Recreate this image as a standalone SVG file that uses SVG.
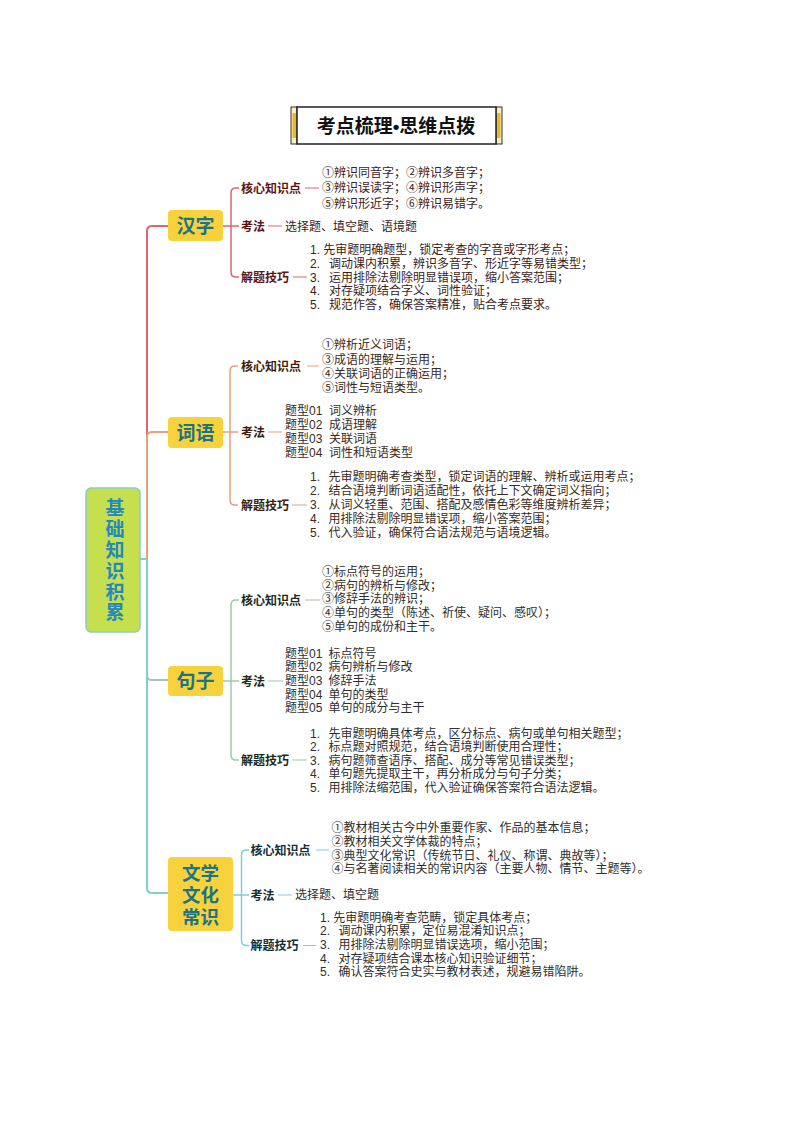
<svg xmlns="http://www.w3.org/2000/svg" width="794" height="1123" viewBox="0 0 794 1123">
<style>
text{font-family:"Liberation Sans","Noto Sans CJK SC","Noto Sans CJK JP",sans-serif;font-size:12px}
.lb{font-weight:bold}
.nd{font-size:19px;font-weight:bold;fill:#1a7386;text-anchor:middle}
.rt{font-size:19px;font-weight:bold;fill:#2389bd;text-anchor:middle;writing-mode:vertical-rl;letter-spacing:1.8px}
.box{fill:#f8d23c;stroke:none}
.c1{stroke:#d46a6e}
.c2{stroke:#e3a27c}
.c3{stroke:#9fcba6}
.c4{stroke:#7fcfcf}
.main{fill:none;stroke-width:2}
.sub{fill:none;stroke-width:1.5}
.dash{fill:none;stroke-width:1}
.l1{fill:#5e1414}.b1{fill:#3b2222}
.l2{fill:#3d1e0a}.b2{fill:#3a2a20}
.l3{fill:#1c2b1c}.b3{fill:#2e2e2e}
.l4{fill:#12303a}.b4{fill:#2e2e2e}
</style>
<rect width="794" height="1123" fill="#ffffff"/>

<g id="title">
  <rect x="291" y="107" width="6" height="37" fill="#fbeec0" stroke="#333" stroke-width="1"/>
  <rect x="292.5" y="113" width="3.5" height="25" fill="#e8b82e"/>
  <rect x="496" y="107" width="6" height="37" fill="#fbeec0" stroke="#333" stroke-width="1"/>
  <rect x="497" y="113" width="3.5" height="25" fill="#e8b82e"/>
  <rect x="297" y="107" width="199" height="37" fill="#ffffff" stroke="#222" stroke-width="1.5"/>
  <text x="396" y="132.5" text-anchor="middle" style="font-size:19px;font-weight:bold;fill:#111">考点梳理•思维点拨</text>
</g>

<g id="connectors">
  <path class="main c3" d="M147,559 V675 Q147,680 152,680 H168"/>
  <path class="main c4" d="M140,559 H147 V888 Q147,893 152,893 H168"/>
  <path class="main c1" d="M147,559 V231 Q147,226 152,226 H168"/>
  <path class="main c2" d="M147,559 V437 Q147,432 152,432 H168"/>

  <path class="sub c1" d="M223,226 H239 M231,226 V193 Q231,188 236,188 H239 M231,226 V272 Q231,277 236,277 H239"/>
  <path class="dash c1" d="M305,188 H319 M268,226 H282 M293,277 H307"/>

  <path class="sub c2" d="M223,432 H238 M230,432 V371 Q230,366 235,366 H238 M230,432 V500 Q230,505 235,505 H238"/>
  <path class="dash c2" d="M307,366 H319 M268,432 H282 M292,505 H307"/>

  <path class="sub c3" d="M223,681 H239 M231,681 V605 Q231,600 236,600 H239 M231,681 V755 Q231,760 236,760 H239"/>
  <path class="dash c3" d="M305,600 H320 M268,681 H283 M292,760 H307"/>

  <path class="sub c4" d="M233,895 H249 M241.5,895 V855 Q241.5,850 246.5,850 H249 M241.5,895 V940.5 Q241.5,945.5 246.5,945.5 H249"/>
  <path class="dash c4" d="M316,850 H329 M278,895 H292 M303,945.5 H316"/>
</g>

<g id="root">
  <rect x="86" y="488" width="54" height="144" rx="5" fill="#c5df4e" stroke="#8ccbc9" stroke-width="1.5"/>
  <text class="rt" x="113" y="561">基础知识积累</text>
</g>

<g id="hanzi">
  <rect class="box" x="168" y="210" width="55" height="31" rx="4"/>
  <text class="nd" x="195.5" y="232.5">汉字</text>
</g>
<g id="hanzi-core">
  <text class="lb l1" x="241" y="192.5">核心知识点</text>
  <text class="b1" x="322" y="177">①辨识同音字；②辨识多音字；</text>
  <text class="b1" x="322" y="192.3">③辨识误读字；④辨识形声字；</text>
  <text class="b1" x="322" y="207.6">⑤辨识形近字；⑥辨识易错字。</text>
</g>
<g id="hanzi-kaofa">
  <text class="lb l1" x="241" y="230.5">考法</text>
  <text class="b1" x="285" y="230.5">选择题、填空题、语境题</text>
</g>
<g id="hanzi-jiqiao">
  <text class="lb l1" x="241" y="281.5">解题技巧</text>
  <text class="b1" x="310" y="254.3">1. 先审题明确题型，锁定考查的字音或字形考点；</text>
  <text class="b1" y="268.3"><tspan x="310">2.</tspan><tspan x="329">调动课内积累，辨识多音字、形近字等易错类型；</tspan></text>
  <text class="b1" y="281.8"><tspan x="310">3.</tspan><tspan x="329">运用排除法剔除明显错误项，缩小答案范围；</tspan></text>
  <text class="b1" y="295.3"><tspan x="310">4.</tspan><tspan x="329">对存疑项结合字义、词性验证；</tspan></text>
  <text class="b1" y="308.8"><tspan x="310">5.</tspan><tspan x="329">规范作答，确保答案精准，贴合考点要求。</tspan></text>
</g>

<g id="ciyu">
  <rect class="box" x="168" y="417" width="55" height="31" rx="4"/>
  <text class="nd" x="195.5" y="439.5">词语</text>
</g>
<g id="ciyu-core">
  <text class="lb l2" x="241" y="370.5">核心知识点</text>
  <text class="b2" x="322" y="349.3">①辨析近义词语；</text>
  <text class="b2" x="322" y="363.6">③成语的理解与运用；</text>
  <text class="b2" x="322" y="377.8">④关联词语的正确运用；</text>
  <text class="b2" x="322" y="392">⑤词性与短语类型。</text>
</g>
<g id="ciyu-kaofa">
  <text class="lb l2" x="241" y="436.5">考法</text>
  <text class="b2" y="415.3"><tspan x="285">题型01</tspan><tspan x="329">词义辨析</tspan></text>
  <text class="b2" y="429.3"><tspan x="285">题型02</tspan><tspan x="329">成语理解</tspan></text>
  <text class="b2" y="443.3"><tspan x="285">题型03</tspan><tspan x="329">关联词语</tspan></text>
  <text class="b2" y="457"><tspan x="285">题型04</tspan><tspan x="329">词性和短语类型</tspan></text>
</g>
<g id="ciyu-jiqiao">
  <text class="lb l2" x="241" y="509.5">解题技巧</text>
  <text class="b2" y="481"><tspan x="310">1.</tspan><tspan x="328.5">先审题明确考查类型，锁定词语的理解、辨析或运用考点；</tspan></text>
  <text class="b2" y="495"><tspan x="310">2.</tspan><tspan x="328.5">结合语境判断词语适配性，依托上下文确定词义指向；</tspan></text>
  <text class="b2" y="509"><tspan x="310">3.</tspan><tspan x="328.5">从词义轻重、范围、搭配及感情色彩等维度辨析差异；</tspan></text>
  <text class="b2" y="523"><tspan x="310">4.</tspan><tspan x="328.5">用排除法剔除明显错误项，缩小答案范围；</tspan></text>
  <text class="b2" y="536.6"><tspan x="310">5.</tspan><tspan x="328.5">代入验证，确保符合语法规范与语境逻辑。</tspan></text>
</g>

<g id="juzi">
  <rect class="box" x="168" y="666" width="55" height="30" rx="4"/>
  <text class="nd" x="195.5" y="688">句子</text>
</g>
<g id="juzi-core">
  <text class="lb l3" x="241" y="604.5">核心知识点</text>
  <text class="b3" x="322" y="576">①标点符号的运用；</text>
  <text class="b3" x="322" y="589.6">②病句的辨析与修改；</text>
  <text class="b3" x="322" y="603.3">③修辞手法的辨识；</text>
  <text class="b3" x="322" y="617">④单句的类型（陈述、祈使、疑问、感叹）；</text>
  <text class="b3" x="322" y="630.6">⑤单句的成份和主干。</text>
</g>
<g id="juzi-kaofa">
  <text class="lb l3" x="241" y="685.5">考法</text>
  <text class="b3" y="657.6"><tspan x="285">题型01</tspan><tspan x="328.5">标点符号</tspan></text>
  <text class="b3" y="671.3"><tspan x="285">题型02</tspan><tspan x="328.5">病句辨析与修改</tspan></text>
  <text class="b3" y="685.3"><tspan x="285">题型03</tspan><tspan x="328.5">修辞手法</tspan></text>
  <text class="b3" y="698.6"><tspan x="285">题型04</tspan><tspan x="328.5">单句的类型</tspan></text>
  <text class="b3" y="712.3"><tspan x="285">题型05</tspan><tspan x="328.5">单句的成分与主干</tspan></text>
</g>
<g id="juzi-jiqiao">
  <text class="lb l3" x="241" y="764.5">解题技巧</text>
  <text class="b3" y="737.6"><tspan x="310">1.</tspan><tspan x="328.5">先审题明确具体考点，区分标点、病句或单句相关题型；</tspan></text>
  <text class="b3" y="751.3"><tspan x="310">2.</tspan><tspan x="328.5">标点题对照规范，结合语境判断使用合理性；</tspan></text>
  <text class="b3" y="764.6"><tspan x="310">3.</tspan><tspan x="328.5">病句题筛查语序、搭配、成分等常见错误类型；</tspan></text>
  <text class="b3" y="778.3"><tspan x="310">4.</tspan><tspan x="328.5">单句题先提取主干，再分析成分与句子分类；</tspan></text>
  <text class="b3" y="792"><tspan x="310">5.</tspan><tspan x="328.5">用排除法缩范围，代入验证确保答案符合语法逻辑。</tspan></text>
</g>

<g id="wenxue">
  <rect class="box" x="168" y="857" width="65" height="74" rx="4"/>
  <text class="nd" x="200.5" y="880.3" style="font-size:18.5px">文学</text>
  <text class="nd" x="200.5" y="902" style="font-size:18.5px">文化</text>
  <text class="nd" x="200.5" y="923.5" style="font-size:18.5px">常识</text>
</g>
<g id="wenxue-core">
  <text class="lb l4" x="250.5" y="854.5">核心知识点</text>
  <text class="b4" x="331.5" y="832.3">①教材相关古今中外重要作家、作品的基本信息；</text>
  <text class="b4" x="331.5" y="846">②教材相关文学体裁的特点；</text>
  <text class="b4" x="331.5" y="859.6">③典型文化常识（传统节日、礼仪、称谓、典故等）；</text>
  <text class="b4" x="331.5" y="873.3">④与名著阅读相关的常识内容（主要人物、情节、主题等）。</text>
</g>
<g id="wenxue-kaofa">
  <text class="lb l4" x="250.5" y="899.5">考法</text>
  <text class="b4" x="295" y="899.3">选择题、填空题</text>
</g>
<g id="wenxue-jiqiao">
  <text class="lb l4" x="250.5" y="950">解题技巧</text>
  <text class="b4" x="320" y="921.8">1. 先审题明确考查范畴，锁定具体考点；</text>
  <text class="b4" y="935.3"><tspan x="320">2.</tspan><tspan x="338.5">调动课内积累，定位易混淆知识点；</tspan></text>
  <text class="b4" y="949.3"><tspan x="320">3.</tspan><tspan x="338.5">用排除法剔除明显错误选项，缩小范围；</tspan></text>
  <text class="b4" y="962.8"><tspan x="320">4.</tspan><tspan x="338.5">对存疑项结合课本核心知识验证细节；</tspan></text>
  <text class="b4" y="976.3"><tspan x="320">5.</tspan><tspan x="338.5">确认答案符合史实与教材表述，规避易错陷阱。</tspan></text>
</g>
</svg>
